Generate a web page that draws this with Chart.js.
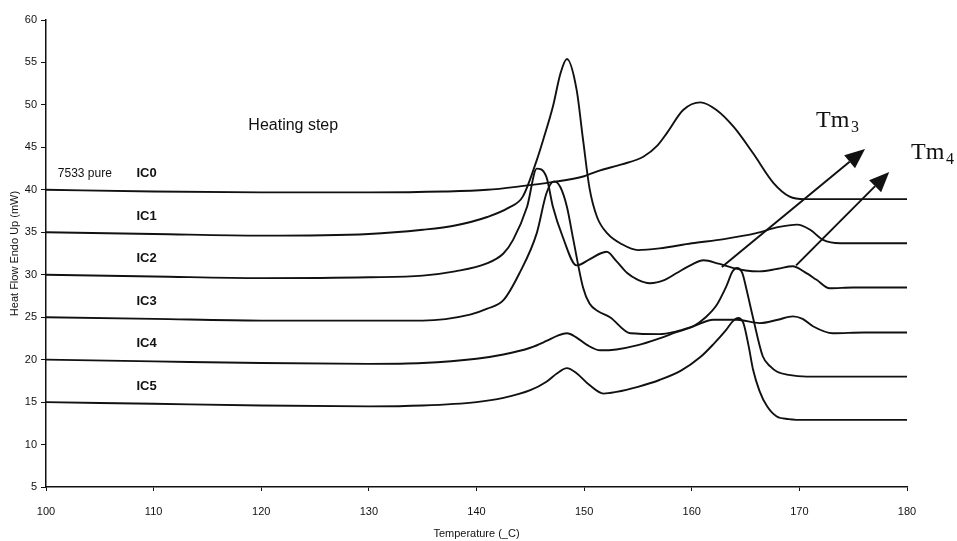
<!DOCTYPE html>
<html>
<head>
<meta charset="utf-8">
<script src="https://cdn.jsdelivr.net/npm/chart.js@4.4.1/dist/chart.umd.min.js"></script>
<style>
  html, body { margin: 0; padding: 0; background: #fff; }
  #wrap { width: 957px; height: 541px; }
</style>
</head>
<body>
<div id="wrap"><canvas id="dscChart" width="957" height="541"></canvas></div>
<script>
// DSC heating scans
const xTicks = [100, 110, 120, 130, 140, 150, 160, 170, 180];
const yTicks = [5, 10, 15, 20, 25, 30, 35, 40, 45, 50, 55, 60];

const seriesNames = ["IC0", "IC1", "IC2", "IC3", "IC4", "IC5"];
const baseLevels = [40, 35, 30, 25, 20, 15];

const tempIC0 = [100, 110, 120, 130, 137, 141, 144, 147, 150, 151.5, 153.5, 155.5, 156.8, 157.7, 159.2, 160.8, 162.3, 163.9, 165.7, 167.6, 169.1, 170.5, 175, 180];
const valIC0  = [40, 39.8, 39.7, 39.7, 39.8, 40.0, 40.4, 40.9, 41.6, 42.3, 43.0, 43.9, 45.2, 46.7, 49.4, 50.3, 49.4, 47.4, 44.3, 40.8, 39.2, 38.9, 38.9, 38.9];

const tempIC1 = [100, 110, 120, 130, 135, 138, 141, 143, 144.3, 145.6, 146.2, 147.1, 147.8, 148.4, 149.3, 149.9, 150.5, 151.2, 152.2, 153.5, 155, 157, 160, 163, 166, 168, 169.8, 171, 172.2, 173.8, 176, 180];
const valIC1  = [35, 34.8, 34.6, 34.8, 35.3, 35.8, 36.8, 37.9, 39.2, 43.5, 45.9, 49.8, 53.7, 55.4, 51.8, 45.9, 40.2, 36.8, 34.8, 33.6, 32.9, 33.1, 33.7, 34.2, 34.9, 35.6, 35.9, 35.3, 34.1, 33.7, 33.7, 33.7];

const tempIC2 = [100, 110, 120, 130, 135, 138, 140.9, 142.5, 143.4, 144.7, 145.6, 146.5, 147.1, 148, 149.3, 150.5, 151.5, 152.1, 153, 154, 155, 156.1, 157.5, 158.6, 160, 161.1, 162.5, 163.8, 165, 166.3, 168, 169.4, 170.5, 171.6, 172.8, 175, 180];
const valIC2  = [30, 29.8, 29.6, 29.7, 29.9, 30.4, 31.3, 32.5, 34.1, 38.0, 42.5, 41.5, 38.0, 34.5, 31.1, 31.8, 32.5, 32.7, 31.6, 30.2, 29.4, 29.0, 29.4, 30.2, 31.2, 31.7, 31.3, 30.8, 30.5, 30.4, 30.7, 31.0, 30.3, 29.4, 28.4, 28.5, 28.5];

const tempIC3 = [100, 110, 120, 130, 135, 139.4, 141, 142.5, 144, 145.6, 146.5, 147.2, 147.8, 148.4, 149, 149.9, 150.5, 151.3, 152.4, 154.3, 157, 158.5, 160.1, 162, 164.2, 166.3, 168, 169.4, 170.3, 171.3, 173.1, 176, 180];
const valIC3  = [25, 24.8, 24.6, 24.6, 24.6, 25.3, 26.0, 27.0, 30.2, 34.9, 39.6, 41.0, 40.3, 38.0, 34.1, 28.5, 26.6, 25.7, 25.0, 23.1, 23.0, 23.3, 23.9, 24.7, 24.7, 24.3, 24.7, 25.1, 24.8, 23.9, 23.1, 23.2, 23.2];

const tempIC4 = [100, 110, 120, 130, 135, 140, 142.5, 145, 146.5, 147.5, 148.4, 149.3, 150.3, 151.5, 153, 155, 157, 158.5, 160.1, 161.3, 162.3, 163.2, 163.8, 164.2, 164.7, 165.1, 165.7, 166.6, 167.3, 167.9, 169, 170.7, 175, 180];
const valIC4  = [20, 19.8, 19.6, 19.5, 19.6, 20.1, 20.6, 21.4, 22.2, 22.8, 23.1, 22.6, 21.7, 21.1, 21.2, 21.7, 22.5, 23.2, 23.9, 25.0, 26.4, 28.6, 30.4, 30.8, 30.2, 28.2, 24.9, 20.4, 19.2, 18.6, 18.2, 18.0, 18.0, 18.0];

const tempIC5 = [100, 110, 120, 130, 135, 140, 142.5, 145, 146.5, 147.5, 148.4, 149.3, 150.5, 151.8, 153, 155, 157, 159, 160.8, 162, 163.2, 163.8, 164.3, 164.8, 165.3, 165.7, 166.3, 167, 167.9, 169, 170.7, 175, 180];
const valIC5  = [15, 14.8, 14.6, 14.5, 14.6, 15.0, 15.5, 16.4, 17.4, 18.4, 19.0, 18.4, 17.0, 16.0, 16.2, 16.8, 17.6, 18.7, 20.3, 21.8, 23.5, 24.5, 24.9, 24.3, 21.5, 18.8, 16.3, 14.5, 13.3, 13.0, 12.9, 12.9, 12.9];

// Tm3 / Tm4 arrows: [start temp, start value, end temp, end value]
const arrowTm3 = [162.8, 30.9, 176.1, 44.8];
const arrowTm4 = [169.7, 31.1, 178.35, 42.1];

const temps = [tempIC0, tempIC1, tempIC2, tempIC3, tempIC4, tempIC5];
const vals = [valIC0, valIC1, valIC2, valIC3, valIC4, valIC5];

const datasets = seriesNames.map(function(name, i) {
  return {
    label: name,
    data: temps[i].map(function(t, j) { return {x: t, y: vals[i][j]}; }),
    borderColor: "#111",
    borderWidth: 1.9,
    pointRadius: 0,
    fill: false,
    cubicInterpolationMode: "monotone"
  };
});

function drawArrow(ctx, x0, y0, x1, y1) {
  const ang = Math.atan2(y1 - y0, x1 - x0);
  const head = 20, half = 8.5;
  const bx = x1 - head * Math.cos(ang), by = y1 - head * Math.sin(ang);
  ctx.beginPath();
  ctx.moveTo(x0, y0);
  ctx.lineTo(bx, by);
  ctx.lineWidth = 2;
  ctx.strokeStyle = "#111";
  ctx.stroke();
  ctx.beginPath();
  ctx.moveTo(x1, y1);
  ctx.lineTo(bx + half * Math.sin(ang), by - half * Math.cos(ang));
  ctx.lineTo(bx - half * Math.sin(ang), by + half * Math.cos(ang));
  ctx.closePath();
  ctx.fillStyle = "#111";
  ctx.fill();
}

const notes = {
  id: "notes",
  afterDatasetsDraw(chart) {
    const ctx = chart.ctx;
    const xs = chart.scales.x, ys = chart.scales.y;
    const px = function(t) { return xs.getPixelForValue(t); };
    const py = function(v) { return ys.getPixelForValue(v); };
    ctx.save();
    ctx.fillStyle = "#111";
    ctx.textBaseline = "middle";
    ctx.textAlign = "left";

    ctx.font = "12px 'Liberation Sans', Arial, sans-serif";
    ctx.fillText("7533 pure", px(101.1), py(baseLevels[0] + 1.9));

    ctx.font = "bold 13px 'Liberation Sans', Arial, sans-serif";
    seriesNames.forEach(function(name, i) {
      ctx.fillText(name, px(108.4), py(baseLevels[i] + 1.9));
    });

    ctx.font = "16px 'Liberation Sans', Arial, sans-serif";
    ctx.fillText("Heating step", px(118.8), py(47.6));

    drawArrow(ctx, px(arrowTm3[0]), py(arrowTm3[1]), px(arrowTm3[2]), py(arrowTm3[3]));
    drawArrow(ctx, px(arrowTm4[0]), py(arrowTm4[1]), px(arrowTm4[2]), py(arrowTm4[3]));

    ctx.textBaseline = "alphabetic";
    ctx.font = "24px 'Liberation Serif', 'Times New Roman', serif";
    ctx.fillText("Tm", 816, 127);
    ctx.fillText("Tm", 911, 159);
    ctx.font = "16px 'Liberation Serif', 'Times New Roman', serif";
    ctx.fillText("3", 851, 132);
    ctx.fillText("4", 946, 164);
    ctx.restore();
  }
};

new Chart(document.getElementById("dscChart"), {
  type: "line",
  data: {datasets: datasets},
  options: {
    responsive: false,
    animation: false,
    layout: {padding: {top: 20, right: 50, left: 0, bottom: 0}},
    plugins: {legend: {display: false}, tooltip: {enabled: false}},
    scales: {
      x: {
        type: "linear",
        min: 100,
        max: 180,
        afterBuildTicks: function(scale) { scale.ticks = xTicks.map(function(v) { return {value: v}; }); },
        afterFit: function(scale) { scale.height = 54; },
        grid: {drawOnChartArea: false, drawTicks: true, tickLength: 4, color: "#111"},
        border: {color: "#111", width: 1.5},
        ticks: {color: "#111", padding: 14, maxRotation: 0, font: {family: "'Liberation Sans', Arial", size: 11}},
        title: {display: true, text: "Temperature (_C)", color: "#111", padding: {top: 0, bottom: 0}, font: {family: "'Liberation Sans', Arial", size: 11}}
      },
      y: {
        min: 5,
        max: 60,
        afterBuildTicks: function(scale) { scale.ticks = yTicks.map(function(v) { return {value: v}; }); },
        afterFit: function(scale) { scale.width = 46; },
        grid: {drawOnChartArea: false, drawTicks: true, tickLength: 5, color: "#111"},
        border: {color: "#111", width: 1.5},
        ticks: {color: "#111", padding: 4, font: {family: "'Liberation Sans', Arial", size: 11}},
        title: {display: true, text: "Heat Flow Endo Up (mW)", color: "#111", padding: {top: 8, bottom: 0}, font: {family: "'Liberation Sans', Arial", size: 11}}
      }
    }
  },
  plugins: [notes]
});
</script>
</body>
</html>
